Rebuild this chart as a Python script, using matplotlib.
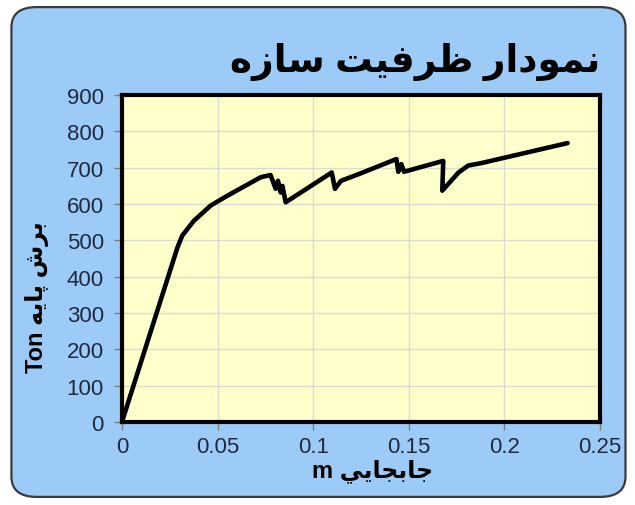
import matplotlib
matplotlib.use("Agg")
import matplotlib.pyplot as plt
from matplotlib.patches import FancyBboxPatch

# Data (displacement m, base shear Ton)
disp = [0, 0.029, 0.0315, 0.0376, 0.0464, 0.0551, 0.0726, 0.0777,
        0.0804, 0.0816, 0.0830, 0.0839, 0.0856,
        0.1097, 0.1114, 0.1145, 0.125,
        0.1435, 0.1445, 0.1461, 0.1475,
        0.1680, 0.1675, 0.176, 0.181, 0.188, 0.233]
shear = [0, 480, 513, 554, 596, 623, 674, 680,
         642, 664, 632, 650, 605,
         687, 642, 664, 685,
         724, 689, 710, 689,
         719, 637, 687, 706, 713, 768]

x_ticks = [0, 0.05, 0.1, 0.15, 0.2, 0.25]
x_tick_labels = ["0", "0.05", "0.1", "0.15", "0.2", "0.25"]
y_ticks = [0, 100, 200, 300, 400, 500, 600, 700, 800, 900]

# Arabic/Persian text in visual (presentation-form) order
title_txt = ("\uFEE9\uFEAF\uFE8E\uFEB3 "
             "\uFE96\uFEF4\uFED3\uFEAE\uFEC7 "
             "\uFEAD\uFE8D\uFEA9\uFEEE\uFEE4\uFEE7")
ylabel_txt = "Ton \uFEEA\uFEF3\uFE8E\uFB58 \uFEB5\uFEAE\uFE91"
xlabel_txt = "m \uFEF2\uFEF3\uFE8E\uFEA0\uFE91\uFE8E\uFE9F"

fam = ["Liberation Sans", "DejaVu Sans"]
plt.rcParams["font.family"] = fam

fig = plt.figure(figsize=(6.35, 5.06), dpi=100)
fig.patch.set_facecolor("white")

bg = FancyBboxPatch((0.018, 0.016), 0.967, 0.968,
                    boxstyle="round,pad=0,rounding_size=0.04",
                    transform=fig.transFigure, facecolor="#9DCBF7",
                    edgecolor="#3a3a3a", linewidth=1.6, zorder=-5)
fig.patches.append(bg)

ax = fig.add_axes([0.192, 0.164, 0.753, 0.646])
ax.set_zorder(2)
ax.set_facecolor("#FFFFCC")
ax.plot(disp, shear, color="black", linewidth=3.3, solid_joinstyle="round",
        solid_capstyle="round", zorder=3)

ax.set_xlim(0, 0.25)
ax.set_ylim(0, 900)
ax.set_xticks(x_ticks)
ax.set_xticklabels(x_tick_labels)
ax.set_yticks(y_ticks)
ax.grid(True, color="#DCDCCC", linewidth=1.0, zorder=0)
ax.set_axisbelow(True)
for s in ax.spines.values():
    s.set_linewidth(3.0)
    s.set_color("black")
ax.tick_params(axis="both", direction="out", length=6, width=1,
               color="#7f7f7f", labelsize=16, labelcolor="#1f2a40", pad=7)
ax.tick_params(axis="x", pad=4)

fig.text(0.945, 0.877, title_txt, ha="right", va="center", fontsize=27,
         fontweight="bold", color="black", family=fam, zorder=5)
fig.text(0.058, 0.413, ylabel_txt, ha="center", va="center", rotation=90,
         fontsize=17, fontweight="bold", color="black", family=fam, zorder=5)
fig.text(0.587, 0.068, xlabel_txt, ha="center", va="center",
         fontsize=17, fontweight="bold", color="black", family=fam, zorder=6)

fig.savefig("out.png", dpi=100, facecolor=fig.get_facecolor())
